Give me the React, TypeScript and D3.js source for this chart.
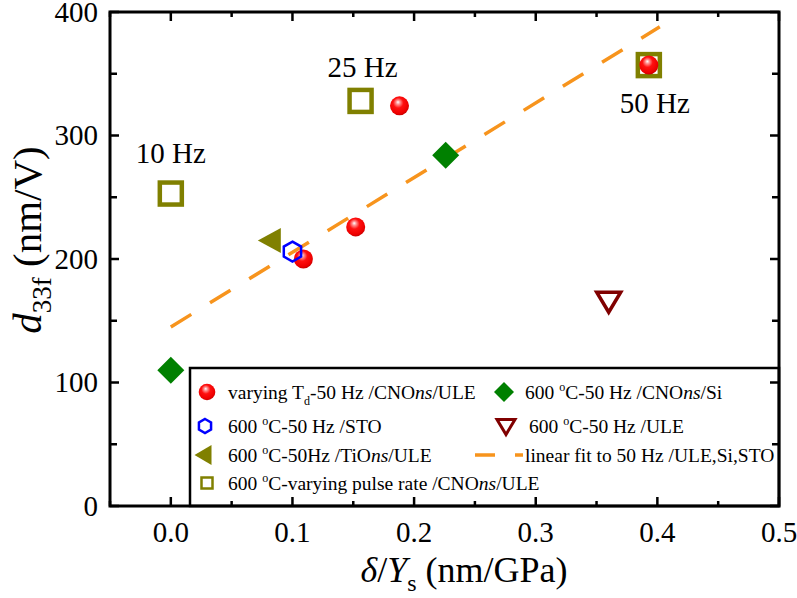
import React from "react";
import * as d3 from "d3";

const W = 797;
const H = 598;

// Data
const tdX = [0.109, 0.152, 0.188, 0.393];
const tdY = [200, 226, 324, 357];
const pulseX = [0.0, 0.156, 0.393];
const pulseY = [253, 328, 357];
const pulseLabels = ["10 Hz", "25 Hz", "50 Hz"];
const siX = [0.0, 0.226];
const siY = [110, 284];
const stoX = [0.1];
const stoY = [206];
const tioX = [0.081];
const tioY = [215];
const uleX = [0.36];
const uleY = [165];
const fitX = [0.0, 0.402];
const fitY = [145, 388];
const xTicks = [0.0, 0.1, 0.2, 0.3, 0.4, 0.5];
const xMinor = [-0.05, 0.05, 0.15, 0.25, 0.35, 0.45];
const yTicks = [0, 100, 200, 300, 400];
const yMinor = [50, 150, 250, 350];

const FONT = "'Liberation Serif', 'Times New Roman', serif";
const OLIVE = "#808000";
const RED_DARK = "#800000";
const GREEN = "#008000";
const BLUE = "#0000FF";
const ORANGE = "#F7941D";

const left = 110, right = 779, top = 12, bottom = 506;
const x = d3.scaleLinear().domain([-0.05, 0.5]).range([left, right]);
const y = d3.scaleLinear().domain([0, 400]).range([bottom, top]);

const hexPath = (cx: number, cy: number, r: number) => {
  const pts = d3.range(6).map((i) => {
    const a = (Math.PI / 3) * i - Math.PI / 2;
    return [cx + r * Math.cos(a), cy + r * Math.sin(a)];
  });
  return "M" + pts.map((p) => p.join(",")).join("L") + "Z";
};
const diamondPath = (cx: number, cy: number, r: number) =>
  `M${cx},${cy - r}L${cx + r},${cy}L${cx},${cy + r}L${cx - r},${cy}Z`;
const triLeftPath = (cx: number, cy: number, w: number, h: number) =>
  `M${cx - w / 2},${cy}L${cx + w / 2},${cy - h / 2}L${cx + w / 2},${cy + h / 2}Z`;
const triDownPath = (cx: number, cy: number, w: number, h: number) =>
  `M${cx - w / 2},${cy - h / 2}L${cx + w / 2},${cy - h / 2}L${cx},${cy + h / 2}Z`;

const Ball = ({ cx, cy, r }: { cx: number; cy: number; r: number }) => (
  <circle cx={cx} cy={cy} r={r} fill="url(#ballGrad)" />
);

const Deg = () => (
  <tspan dy={-8} fontSize={12}>o</tspan>
);

export default function App() {
  const line = d3.line<number>().x((_, i) => x(fitX[i])).y((_, i) => y(fitY[i]));
  const lx1 = 207, lx2 = 504;
  const rows = [392, 426, 455, 483];
  const fs = 19.5;
  return (
    <svg width={W} height={H} style={{ display: "block", position: "absolute", left: 0, top: 0 }} fontFamily={FONT}>
      <defs>
        <radialGradient id="ballGrad" cx="0.45" cy="0.4" r="0.6" fx="0.42" fy="0.3">
          <stop offset="0" stopColor="#ffffff" />
          <stop offset="0.18" stopColor="#ff9090" />
          <stop offset="0.45" stopColor="#ff1010" />
          <stop offset="0.85" stopColor="#ee0000" />
          <stop offset="1" stopColor="#c80000" />
        </radialGradient>
      </defs>
      <rect width={W} height={H} fill="#fff" />

      {/* fit line */}
      <path d={line([0, 1]) || ""} fill="none" stroke={ORANGE} strokeWidth={3.5} strokeDasharray="24 22" />

      {/* pulse-rate squares */}
      {pulseX.map((v, i) => (
        <rect key={"sq" + i} x={x(v) - 11} y={y(pulseY[i]) - 11} width={22} height={22} fill="none" stroke={OLIVE} strokeWidth={4.5} />
      ))}
      {/* Td balls */}
      {tdX.map((v, i) => (
        <Ball key={"b" + i} cx={x(v)} cy={y(tdY[i])} r={9.5} />
      ))}
      {/* Si diamonds */}
      {siX.map((v, i) => (
        <path key={"d" + i} d={diamondPath(x(v), y(siY[i]), 13.5)} fill={GREEN} />
      ))}
      {/* TiO left triangle */}
      {tioX.map((v, i) => (
        <path key={"t" + i} d={triLeftPath(x(v), y(tioY[i]), 23, 25)} fill={OLIVE} />
      ))}
      {/* STO hexagon */}
      {stoX.map((v, i) => (
        <path key={"h" + i} d={hexPath(x(v), y(stoY[i]), 10)} fill="none" stroke={BLUE} strokeWidth={2.5} />
      ))}
      {/* ULE down triangle */}
      {uleX.map((v, i) => (
        <path key={"u" + i} d={triDownPath(x(v), y(uleY[i]), 24, 20)} fill="none" stroke={RED_DARK} strokeWidth={3.5} strokeLinejoin="miter" />
      ))}

      {/* Hz labels */}
      <text x={x(pulseX[0])} y={163} fontSize={29} textAnchor="middle">{pulseLabels[0]}</text>
      <text x={x(pulseX[1]) + 2} y={77} fontSize={29} textAnchor="middle">{pulseLabels[1]}</text>
      <text x={x(pulseX[2]) + 6} y={113} fontSize={29} textAnchor="middle">{pulseLabels[2]}</text>

      {/* legend box */}
      <rect x={190} y={368} width={right - 190} height={bottom - 368} fill="#fff" stroke="#000" strokeWidth={2.5} />
      <Ball cx={lx1} cy={rows[0]} r={8.3} />
      <text x={228} y={rows[0] + 7} fontSize={fs}>
        varying T<tspan dy={6} fontSize={12}>d</tspan><tspan dy={-6}>-50 Hz /CNO</tspan><tspan fontStyle="italic">ns</tspan>/ULE
      </text>
      <path d={hexPath(lx1 - 2, rows[1], 7)} fill="none" stroke={BLUE} strokeWidth={2.5} />
      <text x={228} y={rows[1] + 7} fontSize={fs}>
        600 <Deg /><tspan dy={8}>C-50 Hz /STO</tspan>
      </text>
      <path d={triLeftPath(lx1 - 4, rows[2], 17, 20)} fill={OLIVE} />
      <text x={228} y={rows[2] + 7} fontSize={fs}>
        600 <Deg /><tspan dy={8}>C-50Hz /TiO</tspan><tspan fontStyle="italic">ns</tspan>/ULE
      </text>
      <rect x={lx1 - 5.5} y={rows[3] - 5.5} width={11} height={11} fill="none" stroke={OLIVE} strokeWidth={2.5} />
      <text x={228} y={rows[3] + 7} fontSize={fs}>
        600 <Deg /><tspan dy={8}>C-varying pulse rate /CNO</tspan><tspan fontStyle="italic">ns</tspan>/ULE
      </text>

      <path d={diamondPath(lx2, rows[0], 10)} fill={GREEN} />
      <text x={525} y={rows[0] + 7} fontSize={fs}>
        600 <Deg /><tspan dy={8}>C-50 Hz /CNO</tspan><tspan fontStyle="italic">ns</tspan>/Si
      </text>
      <path d={triDownPath(lx2 + 2, rows[1] + 1, 18, 15)} fill="none" stroke={RED_DARK} strokeWidth={3} />
      <text x={529} y={rows[1] + 7} fontSize={fs}>
        600 <Deg /><tspan dy={8}>C-50 Hz /ULE</tspan>
      </text>
      <line x1={475} x2={523} y1={rows[2]} y2={rows[2]} stroke={ORANGE} strokeWidth={3.5} strokeDasharray="20 20" />
      <text x={525} y={rows[2] + 7} fontSize={fs}>linear fit to 50 Hz /ULE,Si,STO</text>

      {/* axes frame */}
      <rect x={left} y={top} width={right - left} height={bottom - top} fill="none" stroke="#000" strokeWidth={3} />
      {/* x ticks */}
      {xTicks.map((t) => (
        <g key={"xt" + t}>
          <line x1={x(t)} x2={x(t)} y1={bottom} y2={bottom - 9} stroke="#000" strokeWidth={2.5} />
          <line x1={x(t)} x2={x(t)} y1={top} y2={top + 9} stroke="#000" strokeWidth={2.5} />
          <text x={x(t)} y={542} fontSize={29} textAnchor="middle">{d3.format(".1f")(t)}</text>
        </g>
      ))}
      {xMinor.map((t) => (
        <g key={"xm" + t}>
          <line x1={x(t)} x2={x(t)} y1={bottom} y2={bottom - 5} stroke="#000" strokeWidth={2.5} />
          <line x1={x(t)} x2={x(t)} y1={top} y2={top + 5} stroke="#000" strokeWidth={2.5} />
        </g>
      ))}
      {yTicks.map((t) => (
        <g key={"yt" + t}>
          <line x1={left} x2={left + 9} y1={y(t)} y2={y(t)} stroke="#000" strokeWidth={2.5} />
          <line x1={right} x2={right - 9} y1={y(t)} y2={y(t)} stroke="#000" strokeWidth={2.5} />
          <text x={98} y={y(t) + 9.5} fontSize={29} textAnchor="end">{t}</text>
        </g>
      ))}
      {yMinor.map((t) => (
        <g key={"ym" + t}>
          <line x1={left} x2={left + 7} y1={y(t)} y2={y(t)} stroke="#000" strokeWidth={2.5} />
          <line x1={right} x2={right - 7} y1={y(t)} y2={y(t)} stroke="#000" strokeWidth={2.5} />
        </g>
      ))}

      {/* axis titles */}
      <text x={464} y={582} fontSize={36} textAnchor="middle">
        <tspan fontStyle="italic">δ</tspan>/<tspan fontStyle="italic">Y</tspan><tspan dy={9} fontSize={24}>s</tspan><tspan dy={-9}> (nm/GPa)</tspan>
      </text>
      <text transform="translate(41,240) rotate(-90)" fontSize={41} textAnchor="middle">
        <tspan fontStyle="italic">d</tspan><tspan dy={10} fontSize={27}>33f</tspan><tspan dy={-10}> (nm/V)</tspan>
      </text>
    </svg>
  );
}
